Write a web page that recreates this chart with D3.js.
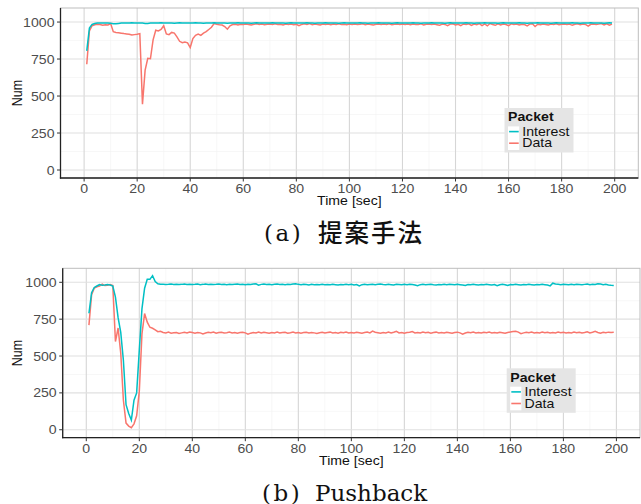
<!DOCTYPE html>
<html>
<head>
<meta charset="utf-8">
<script src="https://cdn.jsdelivr.net/npm/d3@7"></script>
<style>
  body { margin: 0; background: #fff; }
  svg { display: block; }
</style>
</head>
<body>
<div id="chart"></div>
<script>
// values, one value per second (t = 1..199)
const xTicks = [0, 20, 40, 60, 80, 100, 120, 140, 160, 180, 200];
const yTicks = [0, 250, 500, 750, 1000];
const packetNames = ["Interest", "Data"];

// (a) proposed method
const interestA = [
  805, 960, 984, 990, 993, 994, 993, 994, 993, 992, 988, 989, 991, 993, 994, 993, 994, 995, 994, 993, 994, 993, 990, 991, 993, 994, 993, 994, 995, 994,
  993, 994, 993, 992, 994, 995, 994, 993, 994, 993, 994, 995, 994, 993, 992, 994, 993, 994, 995, 994, 993, 994, 993, 992, 994, 993, 994, 995, 994, 993,
  994, 993, 992, 994, 995, 994, 993, 994, 993, 994, 995, 994, 993, 994, 993, 992, 994, 995, 994, 993, 994, 993, 994, 995, 994, 993, 992, 994, 993, 994,
  995, 994, 993, 994, 993, 992, 994, 995, 994, 993, 994, 993, 994, 995, 994, 993, 992, 994, 993, 994, 995, 994, 993, 994, 993, 992, 994, 995, 994, 993,
  994, 993, 994, 995, 994, 993, 992, 994, 993, 994, 995, 994, 993, 994, 993, 992, 994, 995, 994, 993, 994, 993, 994, 995, 994, 993, 992, 994, 993, 994,
  995, 994, 993, 994, 993, 992, 994, 995, 994, 993, 994, 993, 994, 995, 994, 993, 992, 994, 993, 994, 995, 994, 993, 994, 993, 992, 994, 995, 994, 993,
  994, 993, 994, 995, 994, 993, 992, 994, 993, 994, 995, 994, 993, 994, 993, 992, 994, 995, 994
];
const dataA = [
  715, 940, 975, 982, 985, 983, 978, 982, 980, 990, 935, 930, 928, 925, 922, 920, 918, 912, 915, 918, 922, 445, 675, 755, 752, 880, 945, 940, 950, 975,
  920, 915, 930, 925, 900, 870, 860, 865, 860, 828, 888, 910, 918, 910, 925, 935, 950, 965, 990, 985, 982, 980, 970, 952, 975, 983, 985, 980, 985, 983,
  986, 984, 980, 985, 988, 983, 986, 982, 985, 987, 984, 988, 983, 985, 980, 986, 984, 987, 982, 985, 975, 984, 988, 983, 990, 982, 986, 984, 981, 987,
  984, 986, 982, 987, 984, 988, 983, 985, 982, 986, 984, 987, 983, 985, 988, 982, 986, 984, 981, 985, 987, 983, 986, 984, 988, 982, 985, 987, 983, 986,
  984, 987, 982, 986, 984, 983, 988, 981, 985, 987, 983, 986, 982, 978, 987, 984, 975, 986, 988, 980, 985, 976, 987, 983, 988, 978, 986, 982, 990, 976,
  988, 975, 990, 983, 978, 988, 980, 986, 983, 975, 988, 984, 987, 980, 985, 983, 974, 986, 988, 970, 985, 982, 987, 984, 980, 986, 983, 988, 982, 985,
  987, 983, 986, 978, 985, 988, 982, 986, 984, 972, 985, 987, 983, 986, 990, 980, 988, 979, 986
];

// (b) Pushback
const interestB = [
  790, 930, 965, 975, 985, 980, 982, 985, 982, 975, 900, 760, 660, 470, 170, 110, 66, 200, 250, 540, 820, 960, 1020, 1020, 1045, 1005, 990, 987, 986, 985,
  986, 988, 985, 987, 985, 986, 989, 985, 987, 985, 986, 988, 984, 986, 989, 985, 987, 985, 986, 988, 985, 987, 984, 986, 985, 987, 989, 985, 986, 984,
  987, 985, 988, 990, 980, 986, 988, 985, 987, 984, 986, 988, 985, 987, 984, 986, 985, 988, 990, 986, 984, 987, 985, 982, 986, 984, 985, 983, 986, 984,
  985, 983, 986, 984, 982, 985, 983, 986, 984, 987, 982, 985, 975, 984, 986, 983, 985, 987, 984, 986, 988, 985, 983, 986, 984, 982, 987, 985, 983, 986,
  984, 987, 985, 982, 977, 984, 986, 983, 985, 987, 984, 982, 985, 983, 986, 984, 987, 985, 983, 986, 984, 982, 979, 985, 983, 986, 984, 982, 985, 983,
  986, 984, 982, 985, 977, 983, 986, 984, 978, 985, 983, 986, 984, 982, 985, 983, 986, 984, 982, 985, 983, 986, 984, 982, 976, 994, 988, 986, 984, 987,
  985, 983, 986, 984, 987, 985, 983, 986, 989, 984, 987, 985, 990, 988, 984, 986, 982, 980, 979
];
const dataB = [
  710, 915, 960, 970, 975, 988, 978, 980, 985, 978, 598, 690, 520, 200, 45, 25, 14, 40, 95, 260, 650, 788, 730, 695, 688, 678, 665, 668, 660, 657,
  662, 655, 658, 660, 653, 657, 661, 656, 663, 659, 655, 660, 657, 650, 656, 661, 658, 663, 655, 659, 661, 656, 658, 662, 657, 660, 655, 659, 661, 657,
  648, 655, 660, 657, 663, 656, 661, 658, 655, 660, 657, 662, 656, 659, 661, 655, 658, 662, 657, 660, 655, 659, 661, 656, 660, 657, 653, 658, 661, 656,
  659, 662, 657, 660, 655, 661, 658, 663, 656, 660, 657, 661, 658, 655, 660, 663, 657, 669, 661, 658, 655, 660, 657, 662, 656, 661, 668, 657, 660, 655,
  659, 661, 666, 657, 660, 656, 662, 658, 661, 655, 659, 662, 657, 660, 656, 661, 658, 655, 660, 662, 657, 648, 656, 661, 658, 662, 657, 660, 656, 661,
  658, 662, 657, 660, 656, 661, 658, 655, 660, 663, 666, 668, 662, 652, 657, 661, 658, 662, 656, 660, 657, 662, 658, 661, 656, 660, 657, 662, 658, 661,
  656, 660, 657, 662, 658, 661, 656, 659, 665, 657, 661, 668, 660, 655, 661, 658, 662, 660, 661
];

const width = 641;
const height = 504;
const colorInterest = "#00BFC4";
const colorData = "#F8766D";
const sx = 1.13; // the figure is slightly stretched sideways

const svg = d3.select("#chart").append("svg")
  .attr("width", width)
  .attr("height", height);

function stretchedText(g, x, y, str) {
  return g.append("text")
    .attr("transform", `translate(${x},${y}) scale(${sx},1)`)
    .text(str);
}

function drawPanel(box, interest, data) {
  const g = svg.append("g");
  const x = d3.scaleLinear().domain([-8.9, 208.9]).range([box.left, box.right]);
  const y = d3.scaleLinear().domain([-54, 1095]).range([box.bottom, box.top]);

  g.append("rect")
    .attr("x", box.left).attr("y", box.top)
    .attr("width", box.right - box.left).attr("height", box.bottom - box.top)
    .attr("fill", "#fff");

  // minor grid
  const minorX = d3.range(10, 200, 20);
  const minorY = [125, 375, 625, 875];
  g.selectAll(".mx").data(minorX).enter().append("line")
    .attr("x1", d => x(d)).attr("x2", d => x(d))
    .attr("y1", box.top).attr("y2", box.bottom)
    .attr("stroke", "#f2f2f2").attr("stroke-width", 0.6);
  g.selectAll(".my").data(minorY).enter().append("line")
    .attr("x1", box.left).attr("x2", box.right)
    .attr("y1", d => y(d)).attr("y2", d => y(d))
    .attr("stroke", "#f2f2f2").attr("stroke-width", 0.6);

  // major grid
  g.selectAll(".gx").data(xTicks).enter().append("line")
    .attr("x1", d => x(d)).attr("x2", d => x(d))
    .attr("y1", box.top).attr("y2", box.bottom)
    .attr("stroke", "#d6d6d6").attr("stroke-width", 1.1);
  g.selectAll(".gy").data(yTicks).enter().append("line")
    .attr("x1", box.left).attr("x2", box.right)
    .attr("y1", d => y(d)).attr("y2", d => y(d))
    .attr("stroke", "#e0e0e0").attr("stroke-width", 1.1);

  // panel border
  g.append("rect")
    .attr("x", box.left).attr("y", box.top)
    .attr("width", box.right - box.left).attr("height", box.bottom - box.top)
    .attr("fill", "none").attr("stroke", "#bdbdbd").attr("stroke-width", 1);

  // lines
  const line = d3.line()
    .x((d, i) => x(i + 1))
    .y(d => y(d));
  g.append("path").datum(data)
    .attr("d", line).attr("fill", "none")
    .attr("stroke", colorData).attr("stroke-width", 1.5);
  g.append("path").datum(interest)
    .attr("d", line).attr("fill", "none")
    .attr("stroke", colorInterest).attr("stroke-width", 1.5);

  // axis lines
  g.append("line")
    .attr("x1", box.left).attr("x2", box.left)
    .attr("y1", box.top).attr("y2", box.bottom + 0.6)
    .attr("stroke", "#222").attr("stroke-width", 1.3);
  g.append("line")
    .attr("x1", box.left - 0.6).attr("x2", box.right)
    .attr("y1", box.bottom).attr("y2", box.bottom)
    .attr("stroke", "#222").attr("stroke-width", 1.3);

  // ticks
  g.selectAll(".tx").data(xTicks).enter().append("line")
    .attr("x1", d => x(d)).attr("x2", d => x(d))
    .attr("y1", box.bottom).attr("y2", box.bottom + 3.5)
    .attr("stroke", "#333").attr("stroke-width", 1);
  g.selectAll(".ty").data(yTicks).enter().append("line")
    .attr("x1", box.left - 3.5).attr("x2", box.left)
    .attr("y1", d => y(d)).attr("y2", d => y(d))
    .attr("stroke", "#333").attr("stroke-width", 1);

  const labels = g.append("g")
    .style("font-family", "'Liberation Sans', Arial, sans-serif")
    .style("font-size", "12.5px")
    .attr("fill", "#4d4d4d");
  xTicks.forEach(t => {
    stretchedText(labels, x(t), box.bottom + 14.8, t).attr("text-anchor", "middle");
  });
  yTicks.forEach(t => {
    stretchedText(labels, box.left - 6, y(t) + 4.5, t).attr("text-anchor", "end");
  });

  const titles = g.append("g")
    .style("font-family", "'Liberation Sans', Arial, sans-serif")
    .style("font-size", "12.5px")
    .attr("fill", "#111");
  stretchedText(titles, (box.left + box.right) / 2, box.bottom + 26.8, "Time [sec]")
    .attr("text-anchor", "middle");
  titles.append("text")
    .attr("transform", `translate(22,${(box.top + box.bottom) / 2}) scale(${sx},1) rotate(-90)`)
    .attr("text-anchor", "middle")
    .text("Num");

  // legend
  const lg = g.append("g")
    .attr("transform", `translate(${box.left + 444},${box.top + 100})`)
    .style("font-family", "'Liberation Sans', Arial, sans-serif");
  lg.append("rect")
    .attr("width", 69).attr("height", 44.5)
    .attr("fill", "#e5e5e5");
  stretchedText(lg, 3.6, 13.4, "Packet")
    .style("font-size", "12.5px").style("font-weight", "bold").attr("fill", "#111");
  lg.append("rect")
    .attr("x", 3.5).attr("y", 18.4)
    .attr("width", 11.2).attr("height", 23.6)
    .attr("fill", "#fff");
  [colorInterest, colorData].forEach((c, i) => {
    lg.append("line")
      .attr("x1", 4.6).attr("x2", 14.2)
      .attr("y1", 23.6 + i * 11.6).attr("y2", 23.6 + i * 11.6)
      .attr("stroke", c).attr("stroke-width", 1.6);
    stretchedText(lg, 17.8, 27.9 + i * 11.5, packetNames[i])
      .style("font-size", "12.5px").attr("fill", "#111");
  });
}

drawPanel({ left: 60.5, right: 638.3, top: 8, bottom: 178 }, interestA, dataA);
drawPanel({ left: 62.7, right: 640, top: 268.3, bottom: 437.7 }, interestB, dataB);

// captions
const cap = svg.append("g").attr("fill", "#111");
cap.append("text")
  .attr("x", 264).attr("y", 241)
  .style("font-family", "'DejaVu Serif', serif")
  .style("font-size", "23px")
  .style("letter-spacing", "2.5px")
  .text("(a)");
cap.append("text")
  .attr("x", 318).attr("y", 241.5)
  .style("font-family", "'Noto Sans CJK JP', sans-serif")
  .style("font-size", "24.5px")
  .style("font-weight", "500")
  .style("letter-spacing", "2px")
  .text("提案手法");
cap.append("text")
  .attr("x", 262).attr("y", 501)
  .style("font-family", "'DejaVu Serif', serif")
  .style("font-size", "23px")
  .style("letter-spacing", "2.5px")
  .text("(b)");
cap.append("text")
  .attr("x", 315).attr("y", 501)
  .style("font-family", "'DejaVu Serif', serif")
  .style("font-size", "23px")
  .text("Pushback");
</script>
</body>
</html>
